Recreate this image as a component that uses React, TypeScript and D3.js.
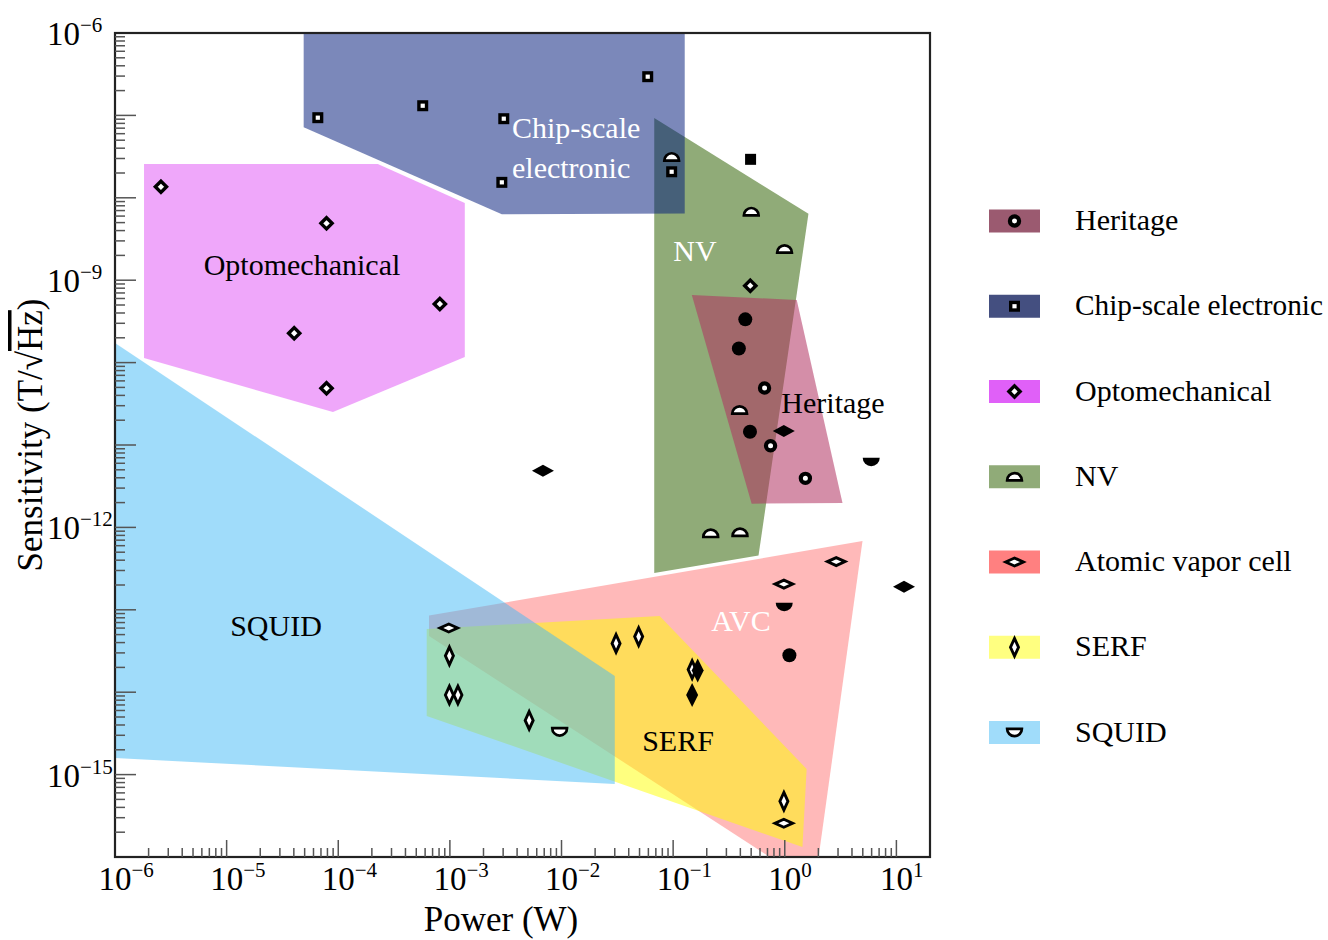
import React, { useRef, useEffect } from "react";
import * as d3 from "d3";

type Pt = [number, number];

// ---- data (power in W, sensitivity in T/sqrt(Hz)) ----
const categories = ["Heritage", "Chip-scale electronic", "Optomechanical", "NV", "Atomic vapor cell", "SERF", "SQUID"];
const legendColors = ["#9b5a70", "#444f80", "#e060f8", "#90ab78", "#ff8080", "#ffff80", "#a0dcfa"];
const legendMarkers = ["ring", "square", "diamond", "halfUp", "hdiamond", "vdiamond", "halfDown"];

const nvRegion: Pt[] = [[0.0677, 9.3e-8], [1.63, 6.4e-9], [0.582, 4.56e-13], [0.0677, 2.8e-13]];
const chipRegion: Pt[] = [[4.9e-5, 1.2e-6], [0.127, 1.2e-6], [0.127, 6.45e-9], [2.92e-3, 6.3e-9], [4.9e-5, 7.2e-8]];
const heritageRegion: Pt[] = [[0.147, 6.6e-10], [1.28, 5.75e-10], [3.29, 1.98e-12], [0.505, 1.94e-12]];
const optoRegion: Pt[] = [[1.82e-6, 2.57e-8], [2.26e-4, 2.57e-8], [1.36e-3, 8.65e-9], [1.36e-3, 1.17e-10], [8.96e-5, 2.51e-11], [1.82e-6, 1.14e-10]];
const avcRegion: Pt[] = [[6.5e-4, 8.5e-14], [4.97, 6.84e-13], [1.85, 4.45e-17], [6.5e-4, 4.81e-14]];
const serfRegion: Pt[] = [[6.2e-4, 5.85e-14], [0.0757, 8.41e-14], [1.57, 1.17e-15], [1.44, 1.32e-16], [6.2e-4, 5.14e-15]];
const squidRegion: Pt[] = [[1e-6, 1.73e-10], [0.03, 1.57e-14], [0.03, 7.69e-16], [1e-6, 1.59e-15]];

const heritageOpen: Pt[] = [[0.659, 4.92e-11], [0.746, 9.81e-12], [1.53, 3.94e-12]];
const heritageFilled: Pt[] = [[0.443, 3.35e-10], [0.388, 1.48e-10], [0.488, 1.45e-11], [1.1, 2.81e-14]];
const chipOpen: Pt[] = [[6.56e-5, 9.38e-8], [5.71e-4, 1.31e-7], [3.04e-3, 9.12e-8], [0.0592, 2.95e-7], [2.92e-3, 1.54e-8], [0.097, 2.07e-8]];
const chipFilled: Pt[] = [[0.494, 2.93e-8]];
const optoOpen: Pt[] = [[2.58e-6, 1.36e-8], [7.85e-5, 4.9e-9], [8.13e-4, 5.14e-10], [4.03e-5, 2.27e-10], [7.85e-5, 4.88e-11], [0.491, 8.57e-10]];
const nvOpen: Pt[] = [[0.097, 3.13e-8], [0.501, 6.78e-9], [0.995, 2.39e-9], [0.394, 2.66e-11], [0.217, 8.48e-13], [0.397, 8.73e-13]];
const avcOpen: Pt[] = [[9.77e-4, 6.01e-14], [0.982, 2.05e-13], [2.89, 3.85e-13], [0.98, 2.57e-16]];
const avcFilled: Pt[] = [[6.82e-3, 4.88e-12], [0.98, 1.48e-11], [11.7, 1.91e-13]];
const serfOpen: Pt[] = [[9.9e-4, 2.76e-14], [9.9e-4, 9.25e-15], [1.18e-3, 9.25e-15], [5.13e-3, 4.55e-15], [0.0308, 3.91e-14], [0.0491, 4.73e-14], [0.148, 1.88e-14], [0.982, 4.75e-16]];
const serfFilled: Pt[] = [[0.166, 1.84e-14], [0.148, 9.25e-15]];
const squidOpen: Pt[] = [[9.62e-3, 3.3e-15]];
const squidFilled: Pt[] = [[0.989, 1.08e-13], [5.95, 6.22e-12]];

const xTickExps = [-6, -5, -4, -3, -2, -1, 0, 1];
const yTickExps = [-6, -9, -12, -15];

const FONT = "'Palatino Linotype', Palatino, 'Book Antiqua', 'Liberation Serif', 'Times New Roman', serif";
const M = { left: 115, top: 33, right: 930, bottom: 857 };

function drawMarker(g: any, kind: string, filled: boolean, cx: number, cy: number) {
  const fill = filled ? "#000" : "#fff";
  const stroke = "#000";
  if (kind === "ring") {
    if (filled) g.append("circle").attr("cx", cx).attr("cy", cy).attr("r", 7).attr("fill", "#000");
    else g.append("circle").attr("cx", cx).attr("cy", cy).attr("r", 4.6).attr("fill", "#fff").attr("stroke", stroke).attr("stroke-width", 4.2);
  } else if (kind === "square") {
    const s = filled ? 11 : 7.6;
    g.append("rect").attr("x", cx - s / 2).attr("y", cy - s / 2).attr("width", s).attr("height", s)
      .attr("fill", fill).attr("stroke", filled ? "none" : stroke).attr("stroke-width", 3.4);
  } else if (kind === "diamond" || kind === "hdiamond" || kind === "vdiamond") {
    let hw = 5.6, hh = 5.6;
    if (kind === "hdiamond") { hw = filled ? 11 : 8.8; hh = filled ? 6 : 4; }
    if (kind === "vdiamond") { hw = filled ? 6 : 4; hh = filled ? 12 : 8.8; }
    const p = d3.path();
    p.moveTo(cx, cy - hh); p.lineTo(cx + hw, cy); p.lineTo(cx, cy + hh); p.lineTo(cx - hw, cy); p.closePath();
    g.append("path").attr("d", p.toString()).attr("fill", fill)
      .attr("stroke", filled ? "none" : stroke).attr("stroke-width", kind === "diamond" ? 3.4 : 2.9)
      .attr("stroke-linejoin", "miter").attr("stroke-miterlimit", 10);
  } else {
    const up = kind === "halfUp";
    const r = filled ? 8.5 : 7.4;
    const base = up ? cy + r / 2 : cy - r / 2;
    g.append("path")
      .attr("d", `M${cx - r},${base} A${r},${r} 0 0 ${up ? 1 : 0} ${cx + r},${base} Z`)
      .attr("fill", fill).attr("stroke", filled ? "none" : stroke).attr("stroke-width", 2.7);
  }
}

export default function App() {
  const svgRef = useRef<SVGSVGElement | null>(null);

  useEffect(() => {
    const svg = d3.select(svgRef.current);
    svg.selectAll("*").remove();

    const x = d3.scaleLog().domain([1e-6, 20]).range([M.left, M.right]);
    const y = d3.scaleLog().domain([1e-16, 1e-6]).range([M.bottom, M.top]);

    svg.append("defs").append("clipPath").attr("id", "plot-clip")
      .append("rect").attr("x", M.left).attr("y", M.top)
      .attr("width", M.right - M.left).attr("height", M.bottom - M.top);

    // ---- shaded regions (drawing order matters for the blends) ----
    const regions: { pts: Pt[]; fill: string; op: number }[] = [
      { pts: nvRegion, fill: "#90ab78", op: 1 },
      { pts: chipRegion, fill: "#011a7a", op: 0.52 },
      { pts: heritageRegion, fill: "#b13261", op: 0.55 },
      { pts: optoRegion, fill: "#e050f5", op: 0.5 },
      { pts: avcRegion, fill: "#ff7373", op: 0.5 },
      { pts: serfRegion, fill: "#ffff00", op: 0.5 },
      { pts: squidRegion, fill: "#41b9f5", op: 0.5 }
    ];
    const line = d3.line<Pt>().x(d => x(d[0])).y(d => y(d[1]));
    const rg = svg.append("g").attr("clip-path", "url(#plot-clip)");
    regions.forEach(r => {
      rg.append("path").attr("d", line(r.pts) + "Z").attr("fill", r.fill).attr("fill-opacity", r.op);
    });

    // ---- region labels ----
    const labels = [
      { t: "Chip-scale", x: 512, y: 138, a: "start", c: "#fff" },
      { t: "electronic", x: 512, y: 178, a: "start", c: "#fff" },
      { t: "NV", x: 695, y: 261, a: "middle", c: "#fff" },
      { t: "Optomechanical", x: 302, y: 275, a: "middle", c: "#000" },
      { t: "Heritage", x: 833, y: 413, a: "middle", c: "#000" },
      { t: "SQUID", x: 276, y: 636, a: "middle", c: "#000" },
      { t: "AVC", x: 741, y: 631, a: "middle", c: "#fff" },
      { t: "SERF", x: 678, y: 751, a: "middle", c: "#000" }
    ];
    labels.forEach(l => {
      svg.append("text").attr("x", l.x).attr("y", l.y).attr("text-anchor", l.a)
        .attr("fill", l.c).style("font-family", FONT).style("font-size", "30px").text(l.t);
    });

    // ---- markers ----
    const mg = svg.append("g");
    const sets: [Pt[], string, boolean][] = [
      [chipOpen, "square", false], [chipFilled, "square", true],
      [optoOpen, "diamond", false],
      [nvOpen, "halfUp", false],
      [heritageOpen, "ring", false], [heritageFilled, "ring", true],
      [avcOpen, "hdiamond", false], [avcFilled, "hdiamond", true],
      [serfOpen, "vdiamond", false], [serfFilled, "vdiamond", true],
      [squidOpen, "halfDown", false], [squidFilled, "halfDown", true]
    ];
    sets.forEach(([pts, kind, filled]) => {
      pts.forEach(p => drawMarker(mg, kind, filled, x(p[0]), y(p[1])));
    });

    // ---- axes ----
    const ag = svg.append("g");
    ag.append("rect").attr("x", M.left).attr("y", M.top).attr("width", M.right - M.left)
      .attr("height", M.bottom - M.top).attr("fill", "none").attr("stroke", "#222").attr("stroke-width", 2.2);

    const isMajor = (v: number) => Math.abs(Math.log10(v) - Math.round(Math.log10(v))) < 1e-9;
    x.ticks(30).forEach(v => {
      const px = x(v);
      if (px <= M.left + 0.5 || px >= M.right - 0.5) return;
      const len = isMajor(v) ? 17 : 9;
      ag.append("line").attr("x1", px).attr("x2", px).attr("y1", M.bottom).attr("y2", M.bottom - len)
        .attr("stroke", "#555").attr("stroke-width", 1.5);
    });
    y.ticks(40).forEach(v => {
      const py = y(v);
      if (py >= M.bottom - 0.5 || py <= M.top + 0.5) return;
      const len = isMajor(v) ? 21 : 10;
      ag.append("line").attr("x1", M.left).attr("x2", M.left + len).attr("y1", py).attr("y2", py)
        .attr("stroke", "#555").attr("stroke-width", 1.5);
    });

    const sup = (e: number) => (e < 0 ? "\u2212" + Math.abs(e) : String(e));
    xTickExps.forEach(e => {
      const t = ag.append("text").attr("x", x(Math.pow(10, e)) - 16.5).attr("y", 890)
        .style("font-family", FONT).style("font-size", "33px").attr("fill", "#000");
      t.append("tspan").text("10");
      t.append("tspan").attr("dy", -13).style("font-size", "21px").text(sup(e));
    });
    yTickExps.forEach(e => {
      const t = ag.append("text").attr("x", 47).attr("y", y(Math.pow(10, e)) + 12)
        .style("font-family", FONT).style("font-size", "33px").attr("fill", "#000");
      t.append("tspan").text("10");
      t.append("tspan").attr("dy", -13).style("font-size", "21px").text(sup(e));
    });

    ag.append("text").attr("x", 501).attr("y", 931).attr("text-anchor", "middle")
      .style("font-family", FONT).style("font-size", "35px").text("Power (W)");
    const yt = ag.append("text").attr("transform", "translate(42,435) rotate(-90)").attr("text-anchor", "middle")
      .style("font-family", FONT).style("font-size", "35px");
    yt.append("tspan").text("Sensitivity (T/\u221A");
    yt.append("tspan").style("text-decoration", "overline").text("Hz");
    yt.append("tspan").text(")");

    // ---- legend ----
    const lg = svg.append("g");
    categories.forEach((name, i) => {
      const cy = 221 + i * 85.25;
      lg.append("rect").attr("x", 989).attr("y", cy - 11.5).attr("width", 51).attr("height", 23).attr("fill", legendColors[i]);
      drawMarker(lg, legendMarkers[i], false, 1014.5, cy);
      const t = lg.append("text").attr("x", 1075).attr("y", cy + 9).style("font-family", FONT).style("font-size", "30px").text(name);
      if (name.length > 18) t.attr("textLength", 248).attr("lengthAdjust", "spacingAndGlyphs");
    });
  }, []);

  return (
    <div style={{ position: "absolute", left: 0, top: 0, width: 1328, height: 940, background: "#fff" }}>
      <svg ref={svgRef} width={1328} height={940} style={{ display: "block" }} />
    </div>
  );
}
